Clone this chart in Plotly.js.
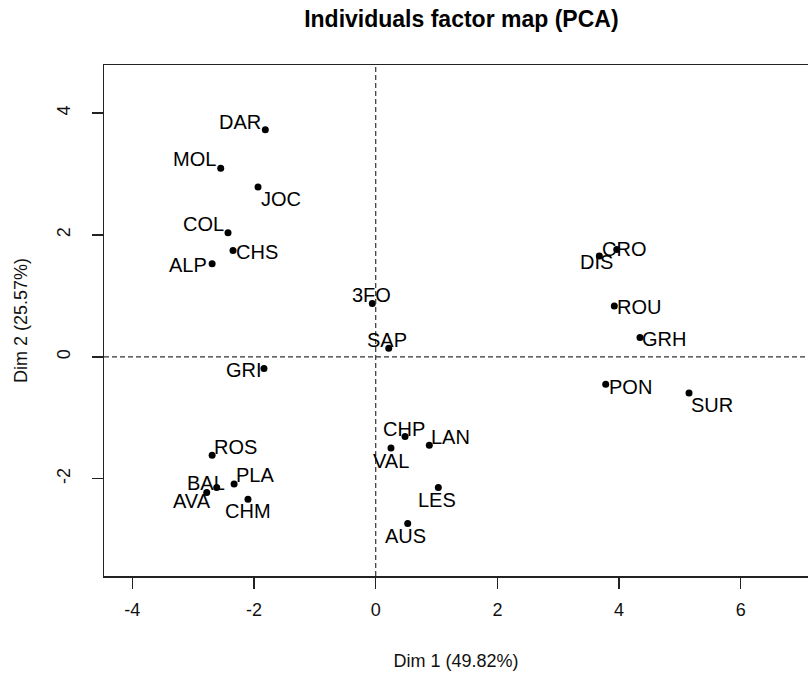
<!DOCTYPE html>
<html>
<head>
<meta charset="utf-8">
<script src="https://cdn.plot.ly/plotly-3.0.1.min.js"></script>
<style>html,body{margin:0;padding:0;overflow:hidden;background:#fff}</style>
</head>
<body>
<div id="chart" style="width:808px;height:673px"></div>
<script>
// Data
const names = ["DAR","MOL","JOC","COL","CHS","ALP","3FO","SAP","GRI","ROS","PLA","BAL","AVA","CHM",
               "CHP","LAN","VAL","LES","AUS","CRO","DIS","ROU","GRH","PON","SUR"];
const dim1 = [-1.814,-2.547,-1.934,-2.427,-2.345,-2.688,-0.056,0.214,-1.836,-2.688,-2.327,-2.613,-2.777,-2.099,
              0.482,0.881,0.251,1.029,0.526,3.961,3.675,3.921,4.343,3.780,5.149];
const dim2 = [3.727,3.094,2.787,2.036,1.747,1.527,0.877,0.143,-0.190,-1.614,-2.085,-2.144,-2.227,-2.337,
              -1.307,-1.450,-1.494,-2.144,-2.736,1.764,1.654,0.833,0.319,-0.448,-0.591];
const xTicks = [-4,-2,0,2,4,6];
const yTicks = [-2,0,2,4];

// Label placement offsets in pixels (style only): [dx, dy] with dy downward
const labelOffsets = [[-25,-8],[-26,-9],[23,12],[-25,-9],[24,2],[-24,1],[-1,-8],[-2,-8],[-20,2],[23,-8],
  [21,-9],[-11,-5],[-15,8],[0,12],[-1,-8],[21,-8],[0,13],[-1,12],[-2,12],[7,0],[-3,6],[25,1],[24,2],[25,3],[23,12]];

const FONT = "Liberation Sans, Arial, sans-serif";

const annotations = names.map((n,i)=>({
  x: dim1[i], y: dim2[i], xref:'x', yref:'y', text:n, showarrow:false,
  xanchor:'center', yanchor:'middle',
  xshift: labelOffsets[i][0], yshift: -labelOffsets[i][1],
  font:{family:FONT, size:20, color:'#000'}
}));

const trace = {
  x: dim1, y: dim2, mode:'markers', type:'scatter',
  marker:{color:'#000', size:7},
  hoverinfo:'text', text:names
};

const layout = {
  width:808, height:673,
  margin:{l:104, r:0, t:65, b:97},
  paper_bgcolor:'#fff', plot_bgcolor:'#fff',
  showlegend:false,
  title:{text:'<b>Individuals factor map (PCA)</b>', x:0.571, xref:'container', xanchor:'center',
         y:0.972, yref:'container', yanchor:'middle',
         font:{family:FONT, size:23, color:'#000'}},
  xaxis:{range:[-4.465,7.104], tickvals:xTicks, ticktext:xTicks.map(String),
         showgrid:false, zeroline:false, showline:true, mirror:true, linecolor:'#222', linewidth:1.5,
         ticks:'outside', ticklen:11, tickcolor:'#222', tickwidth:1.3,
         ticklabelstandoff:6,
         tickfont:{family:FONT, size:18, color:'#111'},
         title:{text:'Dim 1 (49.82%)', standoff:35, font:{family:FONT, size:18, color:'#111'}}},
  yaxis:{range:[-3.596,4.79], tickvals:yTicks, ticktext:yTicks.map(String),
         showgrid:false, zeroline:false, showline:true, linecolor:'#222', linewidth:1.5,
         ticks:'outside', ticklen:11, tickcolor:'#222', tickwidth:1.3, tickangle:-90,
         ticklabelstandoff:14,
         tickfont:{family:FONT, size:18, color:'#111'},
         title:{text:'Dim 2 (25.57%)', standoff:22, font:{family:FONT, size:18, color:'#111'}}},
  shapes:[
    {type:'line', xref:'x', yref:'paper', x0:0, x1:0, y0:0, y1:1, line:{color:'#333', width:1.2, dash:'5px,3px'}},
    {type:'line', xref:'paper', yref:'y', x0:0, x1:1, y0:0, y1:0, line:{color:'#333', width:1.2, dash:'5px,3px'}}
  ],
  annotations: annotations
};

Plotly.newPlot('chart', [trace], layout, {displayModeBar:false, staticPlot:true});
</script>
</body>
</html>
